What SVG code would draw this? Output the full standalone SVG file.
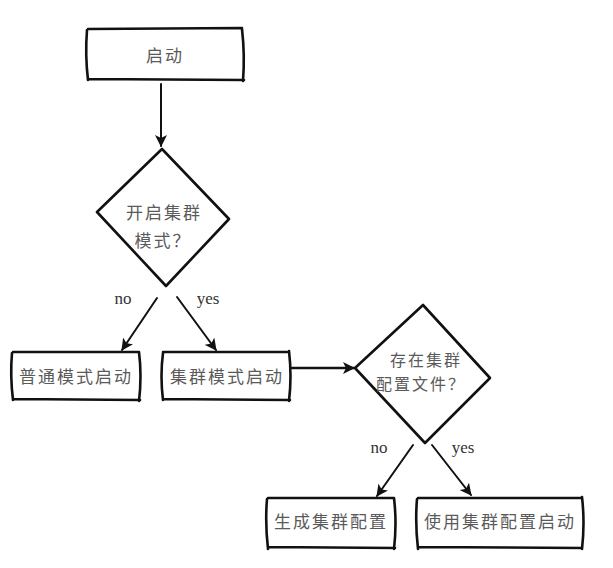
<svg xmlns="http://www.w3.org/2000/svg" width="613" height="568" viewBox="0 0 613 568">
<defs>
<style>
.edge{fill:none;stroke:#111;stroke-width:2.6;stroke-linecap:round;stroke-linejoin:round}
.thin{fill:none;stroke:#111;stroke-width:2;stroke-linecap:round}
.t{font-family:"Noto Sans CJK SC","Noto Sans CJK JP",sans-serif;font-size:17px;fill:#5a5a5a;text-anchor:middle;letter-spacing:2px}
.s{font-size:16px}
.lbl{font-family:"Liberation Serif",serif;font-size:17px;fill:#333;text-anchor:middle}
</style>
<marker id="ah" viewBox="0 0 12 12" refX="11" refY="6" markerWidth="12" markerHeight="12" markerUnits="userSpaceOnUse" orient="auto">
<path d="M0,0 L12,6 L0,12 L3,6 Z" fill="#111"/>
</marker>
</defs>
<rect width="613" height="568" fill="#fff"/>
<g id="connectors">
<line class="thin" x1="161" y1="84" x2="161" y2="146" marker-end="url(#ah)"/>
<line class="thin" x1="157" y1="298" x2="122" y2="350" marker-end="url(#ah)"/>
<line class="thin" x1="177" y1="297" x2="216" y2="350" marker-end="url(#ah)"/>
<line class="edge" x1="292" y1="368" x2="354" y2="368" marker-end="url(#ah)"/>
<line class="thin" x1="413" y1="445" x2="377" y2="496" marker-end="url(#ah)"/>
<line class="thin" x1="432" y1="445" x2="471" y2="495" marker-end="url(#ah)"/>
<text class="lbl" x="123" y="304">no</text>
<text class="lbl" x="208" y="304">yes</text>
<text class="lbl" x="379" y="453">no</text>
<text class="lbl" x="463" y="453">yes</text>
</g>
<g id="start">
<path class="edge" d="M88,29 L242,28 M88,79 L244,80 M87,30 Q85,55 88,80 M242,29 Q245,55 243,81"/>
<text class="t" x="165" y="62">启动</text>
</g>
<g id="cluster-mode">
<path class="edge" d="M162,149 L97,212 L166,286 L229,219 Z"/>
<text class="t" x="164" y="219">开启集群</text>
<text class="t" x="163" y="247">模式？</text>
</g>
<g id="normal-start">
<path class="edge" d="M13,352 L138,352 M13,399 L140,400 M12,353 Q10,376 13,400 M139,352 Q142,376 139,401"/>
<text class="t" x="76" y="383">普通模式启动</text>
</g>
<g id="cluster-start">
<path class="edge" d="M163,352 L287,352 M163,399 L290,400 M163,353 Q160,376 163,400 M289,351 Q292,376 289,401"/>
<text class="t" x="227" y="383">集群模式启动</text>
</g>
<g id="config-exists">
<path class="edge" d="M423,305 L355,368 L425,443 L490,378 Z"/>
<text class="t s" x="426" y="366">存在集群</text>
<text class="t s" x="421" y="390">配置文件？</text>
</g>
<g id="gen-config">
<path class="edge" d="M268,498 L393,498 M268,547 L395,548 M267,499 Q265,523 268,549 M394,498 Q397,523 394,549"/>
<text class="t" x="331" y="528">生成集群配置</text>
</g>
<g id="use-config">
<path class="edge" d="M418,498 L581,498 M418,547 L582,548 M417,499 Q415,523 418,549 M582,497 Q585,523 582,549"/>
<text class="t" x="500" y="528">使用集群配置启动</text>
</g>
</svg>
